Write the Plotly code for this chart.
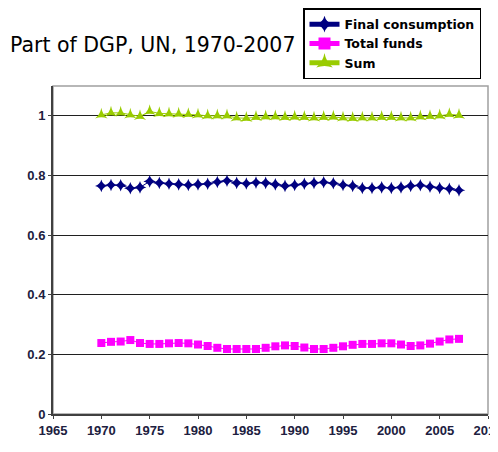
import plotly.graph_objects as go

years = list(range(1970, 2008))
final_consumption = [0.765, 0.768, 0.767, 0.757, 0.760, 0.780, 0.775, 0.772, 0.770, 0.768,
                     0.770, 0.772, 0.778, 0.782, 0.775, 0.773, 0.776, 0.775, 0.770, 0.765,
                     0.768, 0.772, 0.775, 0.777, 0.774, 0.768, 0.765, 0.758, 0.758, 0.760,
                     0.758, 0.760, 0.765, 0.767, 0.762, 0.758, 0.755, 0.750]
total_funds = [0.238, 0.242, 0.243, 0.248, 0.238, 0.235, 0.235, 0.237, 0.238, 0.237,
               0.233, 0.228, 0.222, 0.218, 0.218, 0.218, 0.218, 0.222, 0.227, 0.230,
               0.228, 0.223, 0.218, 0.218, 0.222, 0.227, 0.232, 0.235, 0.235, 0.237,
               0.237, 0.233, 0.228, 0.230, 0.236, 0.243, 0.250, 0.252]
sum_series = [1.003, 1.010, 1.010, 1.003, 0.998, 1.015, 1.008, 1.007, 1.006, 1.005,
              1.003, 1.000, 1.000, 1.000, 0.993, 0.992, 0.995, 0.997, 0.997, 0.995,
              0.996, 0.995, 0.993, 0.995, 0.996, 0.993, 0.992, 0.993, 0.993, 0.995,
              0.995, 0.993, 0.993, 0.997, 0.998, 1.000, 1.005, 1.002]

x_ticks = list(range(1965, 2011, 5))
y_ticks = [0, 0.2, 0.4, 0.6, 0.8, 1]
y_tick_text = ["0", "0.2", "0.4", "0.6", "0.8", "1"]

W, H = 490, 436
L, R, T, B = 45, 10, 78, 30
PW, PH = W - L - R, H - T - B

fig = go.Figure()
fig.add_trace(go.Scatter(x=years, y=final_consumption, name="Final consumption",
                         mode="lines+markers",
                         line=dict(color="#000080", width=1),
                         marker=dict(symbol="star-diamond", size=9, color="#000080")))
fig.add_trace(go.Scatter(x=years, y=total_funds, name="Total funds",
                         mode="lines+markers",
                         line=dict(color="#FF00FF", width=1),
                         marker=dict(symbol="square", size=8, color="#FF00FF")))
fig.add_trace(go.Scatter(x=years, y=sum_series, name="Sum",
                         mode="lines+markers",
                         line=dict(color="#99CC00", width=1),
                         marker=dict(symbol="star-triangle-up", size=9, color="#99CC00")))

tick_font = dict(size=13, color="#202040", family="Liberation Sans Narrow, Arial Narrow, sans-serif",
                 weight="bold")

fig.update_layout(
    width=W, height=H,
    margin=dict(l=L, r=R, t=T, b=B, autoexpand=False),
    paper_bgcolor="white", plot_bgcolor="white",
    font=dict(family="DejaVu Sans, sans-serif", color="black"),
    title=dict(text="Part of DGP, UN, 1970-2007", x=2/W, xanchor="left",
               y=1-37/H, yanchor="middle",
               font=dict(size=20.5, color="black", family="DejaVu Sans, sans-serif")),
    legend=dict(x=(295-L)/PW, xanchor="left", y=(PH + T) / PH, yanchor="top",
                bordercolor="black", borderwidth=1.5, bgcolor="white",
                font=dict(size=12.5, family="DejaVu Sans, sans-serif", weight="bold"),
                tracegroupgap=0, itemsizing="constant"),
    showlegend=True,
    xaxis=dict(range=[1965, 2010], tickmode="array", tickvals=x_ticks,
               showgrid=False, zeroline=False,
               showline=True, linecolor="#404040", linewidth=2,
               ticks="outside", ticklen=3, tickcolor="#404040",
               ticklabeloverflow="allow",
               tickfont=tick_font),
    yaxis=dict(range=[0, 1.1], tickmode="array", tickvals=y_ticks, ticktext=y_tick_text,
               showgrid=True, gridcolor="#202020", gridwidth=1, zeroline=False,
               showline=True, linecolor="#404040", linewidth=2,
               ticks="outside", ticklen=3, tickcolor="#404040",
               tickfont=tick_font),
)
# plot frame (top/right)
fig.add_shape(type="rect", xref="paper", yref="paper", x0=0, y0=0, x1=1, y1=1,
              line=dict(color="#A0A0A0", width=1.5), layer="below")

fig.write_html("out.html")
